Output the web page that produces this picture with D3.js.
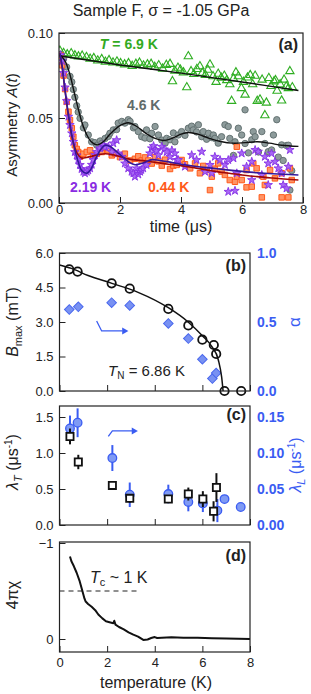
<!DOCTYPE html>
<html><head><meta charset="utf-8">
<script src="https://cdn.jsdelivr.net/npm/d3@7"></script>
<style>body{margin:0;background:#fff}svg{display:block}text{font-family:"Liberation Sans",Arial,sans-serif}</style>
</head><body><svg id="c" width="311" height="694"></svg>
<script>
// ---------- DATA ----------
// Panel (a): muon asymmetry A(t) vs time (μs)
const timeTicks = [0, 2, 4, 6, 8];
const asymTicks = [0, 0.05, 0.10];
const green69 = [[0.03,0.0895],[0.15,0.0882],[0.27,0.0874],[0.4,0.0880],[0.52,0.0868],[0.64,0.0862],[0.76,0.0866],[0.9,0.0858],[1.02,0.0848],[1.14,0.0852],[1.27,0.0838],[1.4,0.0846],[1.52,0.083],[1.64,0.0840],[1.77,0.0826],[1.9,0.0832],[2.02,0.0822],[2.15,0.0815],[2.28,0.0822],[2.4,0.0806],[2.52,0.0818],[2.64,0.0825],[2.77,0.0808],[2.9,0.0815],[3.02,0.0818],[3.14,0.0800],[3.27,0.081],[3.4,0.0790],[3.52,0.0812],[3.64,0.0818],[3.72,0.0716],[3.8,0.0778],[3.9,0.0795],[3.98,0.0784],[4.08,0.0768],[4.19,0.068],[4.24,0.0863],[4.33,0.0775],[4.42,0.0758],[4.52,0.0788],[4.62,0.0804],[4.7,0.0765],[4.8,0.0752],[4.88,0.0783],[4.95,0.0814],[5.05,0.0745],[5.15,0.0712],[5.22,0.076],[5.32,0.0737],[5.42,0.0748],[5.5,0.0722],[5.6,0.0698],[5.66,0.060],[5.72,0.0732],[5.8,0.0768],[5.88,0.0745],[5.98,0.0675],[6.05,0.0712],[6.1,0.0637],[6.18,0.0738],[6.27,0.0752],[6.35,0.0698],[6.43,0.0748],[6.5,0.060],[6.59,0.0608],[6.66,0.0725],[6.75,0.0516],[6.8,0.059],[6.88,0.0735],[6.95,0.0688],[7.05,0.0715],[7.1,0.0722],[7.15,0.066],[7.25,0.0698],[7.3,0.0602],[7.38,0.0725],[7.45,0.0685],[7.52,0.0675],[7.57,0.0775],[7.65,0.068]];
const gray46 = [[0.05,0.0875],[0.15,0.0848],[0.25,0.080],[0.36,0.0745],[0.42,0.0712],[0.47,0.0668],[0.52,0.0622],[0.58,0.0572],[0.63,0.0535],[0.69,0.0498],[0.8,0.0442],[0.85,0.0459],[0.96,0.040],[1.07,0.036],[1.18,0.0355],[1.24,0.034],[1.35,0.0365],[1.4,0.035],[1.51,0.038],[1.62,0.0392],[1.67,0.041],[1.78,0.043],[1.89,0.0432],[1.94,0.047],[2.06,0.048],[2.16,0.047],[2.27,0.049],[2.33,0.048],[2.44,0.0442],[2.49,0.045],[2.6,0.042],[2.71,0.039],[2.82,0.0382],[2.87,0.043],[2.98,0.0378],[3.04,0.041],[3.15,0.045],[3.26,0.040],[3.37,0.037],[3.48,0.0352],[3.53,0.038],[3.64,0.0372],[3.75,0.0412],[3.8,0.036],[3.91,0.040],[4.02,0.042],[4.13,0.0398],[4.24,0.044],[4.35,0.0452],[4.4,0.043],[4.51,0.0418],[4.57,0.046],[4.68,0.039],[4.73,0.042],[4.84,0.0375],[4.9,0.041],[5.01,0.0385],[5.06,0.040],[5.11,0.038],[5.22,0.0352],[5.33,0.039],[5.44,0.046],[5.55,0.045],[5.6,0.038],[5.72,0.028],[5.77,0.036],[5.88,0.044],[5.99,0.040],[6.1,0.035],[6.1,0.0548],[6.21,0.0295],[6.32,0.0372],[6.37,0.042],[6.43,0.039],[6.54,0.030],[6.65,0.042],[6.75,0.035],[6.86,0.0302],[6.97,0.0312],[7.03,0.040],[7.14,0.049],[7.19,0.027],[7.3,0.0342],[7.35,0.025],[7.46,0.0338],[7.52,0.034],[7.57,0.0076],[7.63,0.019]];
const orange044 = [[0.05,0.0868],[0.1,0.081],[0.15,0.075],[0.2,0.067],[0.25,0.0595],[0.31,0.0537],[0.36,0.0488],[0.42,0.044],[0.47,0.039],[0.52,0.034],[0.58,0.0318],[0.63,0.030],[0.69,0.0272],[0.8,0.029],[0.91,0.030],[1.02,0.031],[1.12,0.028],[1.24,0.029],[1.4,0.030],[1.51,0.0325],[1.62,0.031],[1.73,0.028],[1.84,0.029],[2.0,0.027],[2.16,0.029],[2.33,0.025],[2.49,0.026],[2.6,0.0275],[2.71,0.025],[2.82,0.0268],[2.93,0.025],[3.04,0.0232],[3.15,0.027],[3.26,0.0245],[3.37,0.022],[3.48,0.0255],[3.64,0.020],[3.75,0.022],[3.86,0.0224],[4.02,0.0253],[4.13,0.0228],[4.3,0.0204],[4.46,0.0233],[4.62,0.0175],[4.73,0.0218],[4.84,0.0194],[4.95,0.0076],[5.01,0.0155],[5.11,0.0202],[5.22,0.0233],[5.33,0.0185],[5.44,0.0165],[5.6,0.0135],[5.77,0.0125],[5.83,0.0331],[5.83,0.0155],[5.99,0.0135],[6.15,0.0194],[6.15,0.0092],[6.32,0.0096],[6.37,0.0233],[6.48,0.0204],[6.65,0.0033],[6.7,0.0155],[6.75,0.0106],[6.92,0.0194],[7.08,0.0145],[7.3,0.0175],[7.3,0.0033],[7.52,0.0033],[7.57,0.0204],[7.63,0.0135]];
const purple219 = [[0.05,0.087],[0.1,0.0835],[0.15,0.0765],[0.2,0.068],[0.25,0.060],[0.31,0.0508],[0.36,0.0459],[0.42,0.041],[0.47,0.036],[0.52,0.030],[0.58,0.028],[0.63,0.0253],[0.69,0.0224],[0.74,0.020],[0.8,0.0184],[0.85,0.0175],[0.91,0.0184],[0.96,0.0192],[1.02,0.0204],[1.07,0.0225],[1.12,0.0253],[1.18,0.0282],[1.24,0.030],[1.34,0.0322],[1.45,0.0341],[1.51,0.0328],[1.62,0.0331],[1.73,0.030],[1.78,0.0351],[1.89,0.037],[1.94,0.0292],[2.06,0.0272],[2.16,0.0233],[2.27,0.0204],[2.38,0.0184],[2.44,0.0175],[2.49,0.0155],[2.55,0.0204],[2.6,0.0168],[2.66,0.0184],[2.7,0.0195],[2.76,0.0204],[2.87,0.0224],[2.98,0.0292],[3.04,0.0322],[3.1,0.0335],[3.15,0.0312],[3.2,0.0305],[3.26,0.0282],[3.37,0.0331],[3.45,0.0315],[3.53,0.030],[3.64,0.0272],[3.7,0.031],[3.8,0.0292],[3.86,0.0253],[3.91,0.0253],[4.13,0.0214],[4.35,0.0282],[4.51,0.0253],[4.68,0.0302],[4.79,0.0184],[4.95,0.0224],[5.01,0.0175],[5.11,0.0272],[5.28,0.0253],[5.44,0.0224],[5.55,0.0253],[5.55,0.0066],[5.72,0.0263],[5.77,0.0072],[5.83,0.0175],[5.99,0.0292],[6.15,0.0214],[6.32,0.0243],[6.32,0.0135],[6.43,0.0312],[6.53,0.0302],[6.65,0.0165],[6.75,0.0272],[6.86,0.0233],[6.86,0.0106],[6.97,0.0292],[7.08,0.0243],[7.19,0.0204],[7.3,0.0175],[7.35,0.0106],[7.46,0.0086],[7.52,0.0214],[7.57,0.0312]];
// fit curves
const fit69 = [[0,0.0866],[2,0.0812],[4,0.0764],[6,0.0712],[7.85,0.0662]];
const fit46 = [[0.03,0.0872],[0.2,0.0835],[0.35,0.076],[0.5,0.065],[0.63,0.0555],[0.75,0.0475],[0.9,0.0405],[1.05,0.0362],[1.25,0.0342],[1.45,0.036],[1.7,0.041],[2.0,0.0455],[2.27,0.0472],[2.55,0.045],[2.85,0.041],[3.15,0.038],[3.42,0.0368],[3.7,0.038],[4.0,0.0405],[4.25,0.0415],[4.55,0.0405],[4.9,0.0382],[5.3,0.0362],[5.7,0.0352],[6.1,0.0355],[6.5,0.036],[6.9,0.0352],[7.3,0.034],[7.85,0.0333]];
const fit219 = [[0.03,0.088],[0.1,0.081],[0.2,0.066],[0.31,0.052],[0.45,0.037],[0.6,0.026],[0.75,0.019],[0.91,0.0175],[1.05,0.020],[1.2,0.026],[1.35,0.031],[1.51,0.034],[1.7,0.033],[1.9,0.030],[2.1,0.027],[2.3,0.024],[2.49,0.0225],[2.75,0.0235],[3.05,0.0255],[3.3,0.025],[3.6,0.0242],[4.0,0.0228],[4.5,0.0215],[5,0.0205],[5.5,0.0195],[6,0.0186],[6.5,0.0178],[7,0.0172],[7.85,0.0165]];
const fit044 = [[0.03,0.088],[0.1,0.080],[0.2,0.066],[0.31,0.051],[0.45,0.037],[0.6,0.029],[0.74,0.0265],[0.9,0.0268],[1.07,0.0275],[1.3,0.0285],[1.51,0.029],[1.8,0.0282],[2.1,0.0268],[2.4,0.0255],[2.8,0.0248],[3.2,0.0238],[3.6,0.0228],[4.0,0.022],[4.5,0.0205],[5,0.019],[5.5,0.0176],[6,0.0165],[6.5,0.0155],[7,0.0147],[7.85,0.0135]];

// Panel (b): Bmax (mT) and alpha vs temperature (K)
const tempTicks = [0, 2, 4, 6, 8];
const bTicks = [0, 1.5, 3.0, 4.5, 6.0];
const alphaTicks = [0, 0.5, 1.0];
const tempB = [0.41,0.76,2.19,2.95,4.57,5.41,6.0,6.48,6.58,6.93,7.63];
const bmax  = [5.29,5.19,4.68,4.45,3.57,2.85,2.23,2.0,1.61,0,0];
const tempAlpha = [0.41,0.79,2.19,2.95,4.57,5.41,6.0,6.42,6.58];
const alpha = [0.59,0.61,0.64,0.62,0.49,0.38,0.23,0.09,0.13];
const bFit = [[0,5.48],[0.5,5.33],[1.2,5.02],[2.2,4.68],[3.3,4.29],[4.57,3.62],[5.4,3.0],[6.0,2.4],[6.4,1.93],[6.67,1.35],[6.81,0.6],[6.87,0]];

// Panel (c): lambda_T (left) and lambda_L (right) vs temperature
const lamTTicks = [0, 0.5, 1.0, 1.5];
const lamLTicks = [0, 0.05, 0.10, 0.15];
const tempLT = [0.44,0.79,2.22,2.95,4.57,5.41,6.02,6.47,6.59];
const lamT   = [1.23,0.875,0.55,0.37,0.36,0.43,0.36,0.19,0.52];
const lamTErr= [0.11,0.10,0.05,0.06,0.04,0.09,0.11,0.14,0.20];
const tempLL = [0.44,0.76,2.22,2.95,4.57,5.41,6.02,6.63,6.93,7.61];
const lamL   = [0.134,0.142,0.093,0.042,0.043,0.032,0.030,0.020,0.036,0.025];
const lamLErr= [0.018,0.020,0.018,0.017,0.013,0.013,0.012,0.016,0.004,0.003];

// Panel (d): 4πχ vs temperature
const chiTicks = [-1, 0];
const chiCurve = [[0.44,-0.86],[0.5,-0.81],[0.6,-0.76],[0.72,-0.69],[0.85,-0.6],[0.95,-0.51],[1.05,-0.42],[1.1,-0.39],[1.2,-0.365],[1.35,-0.335],[1.5,-0.3],[1.63,-0.255],[1.8,-0.215],[1.95,-0.185],[2.1,-0.175],[2.26,-0.165],[2.3,-0.19],[2.35,-0.15],[2.5,-0.125],[2.7,-0.1],[2.9,-0.07],[3.1,-0.045],[3.3,-0.025],[3.52,0.01],[3.7,0.005],[3.85,-0.01],[4.0,-0.02],[4.1,-0.01],[4.3,-0.012],[4.7,-0.017],[5.2,-0.012],[5.8,-0.012],[6.4,-0.008],[7,-0.005],[8,0]];
const tcLevel = -0.5;

// ---------- DRAW ----------
const svg = d3.select('#c');
const BLUE = '#3a5cf2';
const FS = 13;
const sym = (t,s)=>d3.symbol().type(t).size(s)();

const pa = {l:59,r:303,t:33,b:203};
const pb = {l:59.5,r:250,t:253,b:391};
const pc = {l:59.5,r:250,t:406,b:525};
const pd = {l:59.5,r:250,t:542,b:652};

const xa = d3.scaleLinear().domain([0,8]).range([pa.l,pa.r]);
const ya = d3.scaleLinear().domain([0,0.1]).range([pa.b,pa.t]);
const xT = d3.scaleLinear().domain([0,8]).range([pb.l,pb.r]);
const yb = d3.scaleLinear().domain([0,6]).range([pb.b,pb.t]);
const yb2 = d3.scaleLinear().domain([0,1]).range([pb.b,pb.t]);
const yc = d3.scaleLinear().domain([0,1.5]).range([pc.b,417]);
const yc2 = d3.scaleLinear().domain([0,0.15]).range([pc.b,417]);
const yd = d3.scaleLinear().domain([-1,0]).range([543,639]);

function styleAxis(g){
  g.select('.domain').remove();
  g.selectAll('.tick line').attr('stroke','#222').attr('stroke-width',1);
  g.selectAll('text').attr('font-size',FS).attr('fill','#222').attr('font-family','"Liberation Sans",Arial,sans-serif');
}
function frame(p){
  svg.append('rect').attr('x',p.l).attr('y',p.t).attr('width',p.r-p.l).attr('height',p.b-p.t)
    .attr('fill','none').attr('stroke','#222').attr('stroke-width',1.2);
}
function clip(id,p){
  svg.append('clipPath').attr('id',id).append('rect').attr('x',p.l).attr('y',p.t).attr('width',p.r-p.l).attr('height',p.b-p.t);
}

// Title
svg.append('text').attr('x',161).attr('y',16).attr('text-anchor','middle').attr('font-size',16).attr('fill','#222')
  .text('Sample F, σ = -1.05 GPa');

// ===== Panel (a) =====
clip('ca',pa);
svg.append('g').attr('transform',`translate(${pa.l},0)`)
  .call(d3.axisLeft(ya).tickValues(asymTicks).tickFormat(d3.format('.2f')).tickSizeInner(-6).tickSizeOuter(0).tickPadding(6))
  .call(styleAxis);
svg.append('g').attr('transform',`translate(0,${pa.b})`)
  .call(d3.axisBottom(xa).tickValues(timeTicks).tickFormat(d3.format('d')).tickSizeInner(-6).tickSizeOuter(0).tickPadding(2))
  .call(styleAxis);

const ga = svg.append('g').attr('clip-path','url(#ca)');
ga.selectAll('.tri').data(green69).join('path').attr('d',sym(d3.symbolTriangle,30))
  .attr('transform',d=>`translate(${xa(d[0])},${ya(d[1])})`).attr('fill','none').attr('stroke','#2fae22').attr('stroke-width',1.1);
ga.selectAll('.gc').data(gray46).join('circle').attr('cx',d=>xa(d[0])).attr('cy',d=>ya(d[1])).attr('r',3.2)
  .attr('fill','#8d9b9b').attr('stroke','#5e6c6c').attr('stroke-width',0.9);
ga.selectAll('.sq').data(orange044).join('path').attr('d',sym(d3.symbolSquare,30))
  .attr('transform',d=>`translate(${xa(d[0])},${ya(d[1])})`).attr('fill','#ff9466').attr('stroke','#ff5a1a').attr('stroke-width',1);
ga.selectAll('.st').data(purple219).join('path').attr('d',sym(d3.symbolStar,22))
  .attr('transform',d=>`translate(${xa(d[0])},${ya(d[1])})`).attr('fill','#a868f4').attr('stroke','#8630e6').attr('stroke-width',0.9);

const la = d3.line().x(d=>xa(d[0])).y(d=>ya(d[1])).curve(d3.curveCatmullRom);
ga.append('path').datum(fit69).attr('d',la).attr('fill','none').attr('stroke','#111').attr('stroke-width',1.4);
ga.append('path').datum(fit46).attr('d',la).attr('fill','none').attr('stroke','#111').attr('stroke-width',1.4);
ga.append('path').datum(fit044).attr('d',la).attr('fill','none').attr('stroke','#a00808').attr('stroke-width',1.6);
ga.append('path').datum(fit219).attr('d',la).attr('fill','none').attr('stroke','#33189a').attr('stroke-width',1.6);
frame(pa);

function lbl(x,y,txt,color,size,weight){
  return svg.append('text').attr('x',x).attr('y',y).attr('fill',color||'#222').attr('font-size',size||16).attr('font-weight',weight||'normal').text(txt);
}
const tl = svg.append('text').attr('x',xa(1.34)).attr('y',ya(0.0906)).attr('fill','#33aa22').attr('font-size',14).attr('font-weight','bold');
tl.append('tspan').attr('font-style','italic').text('T');
tl.append('tspan').text(' = 6.9 K');
lbl(xa(2.23),ya(0.0547),'4.6 K','#5f6b6b',14,'bold');
lbl(xa(0.36),ya(0.0065),'2.19 K','#8a2be2',14,'bold');
lbl(xa(2.92),ya(0.0065),'0.44 K','#ff5a1a',14,'bold');
lbl(298,50,'(a)','#222',16,'bold').attr('text-anchor','end');
lbl(181,232,'time (μs)').attr('text-anchor','middle');
const ay = svg.append('text').attr('transform','translate(17,125) rotate(-90)').attr('text-anchor','middle').attr('font-size',15).attr('fill','#222');
ay.append('tspan').text('Asymmetry ');
ay.append('tspan').attr('font-style','italic').text('A');
ay.append('tspan').text('(');
ay.append('tspan').attr('font-style','italic').text('t');
ay.append('tspan').text(')');

// ===== Panel (b) =====
svg.append('g').attr('transform',`translate(${pb.l},0)`)
  .call(d3.axisLeft(yb).tickValues(bTicks).tickFormat(d3.format('.1f')).tickSizeInner(-6).tickSizeOuter(0).tickPadding(6))
  .call(styleAxis);
svg.append('g').attr('transform',`translate(${pb.r},0)`)
  .call(d3.axisRight(yb2).tickValues(alphaTicks).tickFormat(d3.format('.1f')).tickSizeInner(0).tickSizeOuter(0).tickPadding(7))
  .call(styleAxis).call(g=>g.selectAll('text').attr('fill',BLUE).attr('font-weight','bold').attr('font-size',14));
svg.append('g').attr('transform',`translate(0,${pb.b})`)
  .call(d3.axisBottom(xT).tickValues(tempTicks).tickFormat('').tickSizeInner(-6).tickSizeOuter(0))
  .call(styleAxis);

const alphaPts = tempAlpha.map((t,i)=>[t,alpha[i]]);
svg.selectAll('.dia').data(alphaPts).join('path').attr('d',sym(d3.symbolSquare,46))
  .attr('transform',d=>`translate(${xT(d[0])},${yb2(d[1])}) rotate(45)`).attr('fill','#7891f2').attr('stroke','#4a68ee').attr('stroke-width',1);
const lb = d3.line().x(d=>xT(d[0])).y(d=>yb(d[1])).curve(d3.curveMonotoneX);
svg.append('path').datum(bFit).attr('d',lb).attr('fill','none').attr('stroke','#111').attr('stroke-width',1.5);
const bPts = tempB.map((t,i)=>[t,bmax[i]]);
svg.selectAll('.bc').data(bPts).join('circle').attr('cx',d=>xT(d[0])).attr('cy',d=>yb(d[1])).attr('r',4.2)
  .attr('fill','none').attr('stroke','#111').attr('stroke-width',1.8);
frame(pb);
// arrow (b)
const arrB = [[1.56,3.04],[1.77,2.61],[2.65,2.61]];
svg.append('path').datum(arrB).attr('d',d3.line().x(d=>xT(d[0])).y(d=>yb(d[1]))).attr('fill','none').attr('stroke',BLUE).attr('stroke-width',1.3);
svg.append('path').attr('d',sym(d3.symbolTriangle,22)).attr('transform',`translate(${xT(2.72)},${yb(2.61)}) rotate(90)`).attr('fill',BLUE);
lbl(246,271,'(b)','#222',16,'bold').attr('text-anchor','end');
const tn = svg.append('text').attr('x',xT(2.04)).attr('y',yb(0.66)).attr('font-size',15).attr('fill','#222');
tn.append('tspan').attr('font-style','italic').text('T');
tn.append('tspan').attr('font-size',10).attr('dy',3).text('N');
tn.append('tspan').attr('dy',-3).text(' = 6.86 K');
const by = svg.append('text').attr('transform','translate(18,322) rotate(-90)').attr('text-anchor','middle').attr('font-size',16).attr('fill','#222');
by.append('tspan').attr('font-style','italic').text('B');
by.append('tspan').attr('font-size',11).attr('dy',4).text('max');
by.append('tspan').attr('dy',-4).text(' (mT)');
svg.append('text').attr('transform','translate(300,322) rotate(-90)').attr('text-anchor','middle').attr('font-size',17).attr('fill',BLUE).text('α');

// ===== Panel (c) =====
svg.append('g').attr('transform',`translate(${pc.l},0)`)
  .call(d3.axisLeft(yc).tickValues(lamTTicks).tickFormat(d3.format('.1f')).tickSizeInner(-6).tickSizeOuter(0).tickPadding(6))
  .call(styleAxis);
svg.append('g').attr('transform',`translate(${pc.r},0)`)
  .call(d3.axisRight(yc2).tickValues(lamLTicks).tickFormat(d3.format('.2f')).tickSizeInner(0).tickSizeOuter(0).tickPadding(7))
  .call(styleAxis).call(g=>g.selectAll('text').attr('fill',BLUE).attr('font-weight','bold').attr('font-size',14));
svg.append('g').attr('transform',`translate(0,${pc.b})`)
  .call(d3.axisBottom(xT).tickValues(tempTicks).tickFormat('').tickSizeInner(-6).tickSizeOuter(0))
  .call(styleAxis);

const llPts = tempLL.map((t,i)=>({t,v:lamL[i],e:lamLErr[i]}));
svg.selectAll('.lle').data(llPts).join('line').attr('x1',d=>xT(d.t)).attr('x2',d=>xT(d.t))
  .attr('y1',d=>yc2(d.v-d.e)).attr('y2',d=>yc2(d.v+d.e)).attr('stroke',BLUE).attr('stroke-width',2);
svg.selectAll('.llc').data(llPts).join('circle').attr('cx',d=>xT(d.t)).attr('cy',d=>yc2(d.v)).attr('r',4.3)
  .attr('fill','#7f9af4').attr('stroke',BLUE).attr('stroke-width',1.3);
const ltPts = tempLT.map((t,i)=>({t,v:lamT[i],e:lamTErr[i]}));
svg.selectAll('.lte').data(ltPts).join('line').attr('x1',d=>xT(d.t)).attr('x2',d=>xT(d.t))
  .attr('y1',d=>yc(d.v-d.e)).attr('y2',d=>yc(d.v+d.e)).attr('stroke','#111').attr('stroke-width',2);
svg.selectAll('.lts').data(ltPts).join('path').attr('d',sym(d3.symbolSquare,52))
  .attr('transform',d=>`translate(${xT(d.t)},${yc(d.v)})`).attr('fill','#fff').attr('stroke','#111').attr('stroke-width',1.8);
frame(pc);
const arrC = [[2.05,1.23],[2.22,1.306],[3.05,1.306]];
svg.append('path').datum(arrC).attr('d',d3.line().x(d=>xT(d[0])).y(d=>yc(d[1]))).attr('fill','none').attr('stroke',BLUE).attr('stroke-width',1.3);
svg.append('path').attr('d',sym(d3.symbolTriangle,22)).attr('transform',`translate(${xT(3.12)},${yc(1.306)}) rotate(90)`).attr('fill',BLUE);
lbl(246,420,'(c)','#222',16,'bold').attr('text-anchor','end');
const cy = svg.append('text').attr('transform','translate(18,462) rotate(-90)').attr('text-anchor','middle').attr('font-size',16).attr('fill','#222');
cy.append('tspan').attr('font-style','italic').text('λ');
cy.append('tspan').attr('font-style','italic').attr('font-size',11).attr('dy',4).text('T');
cy.append('tspan').attr('dy',-4).text(' (μs');
cy.append('tspan').attr('font-size',10).attr('dy',-6).text('-1');
cy.append('tspan').attr('dy',6).text(')');
const cy2 = svg.append('text').attr('transform','translate(301,465) rotate(-90)').attr('text-anchor','middle').attr('font-size',16).attr('fill',BLUE);
cy2.append('tspan').attr('font-style','italic').text('λ');
cy2.append('tspan').attr('font-style','italic').attr('font-size',11).attr('dy',4).text('L');
cy2.append('tspan').attr('dy',-4).text(' (μs');
cy2.append('tspan').attr('font-size',10).attr('dy',-6).text('-1');
cy2.append('tspan').attr('dy',6).text(')');

// ===== Panel (d) =====
svg.append('g').attr('transform',`translate(${pd.l},0)`)
  .call(d3.axisLeft(yd).tickValues(chiTicks).tickFormat(d3.format('d')).tickSizeInner(-6).tickSizeOuter(0).tickPadding(6))
  .call(styleAxis);
svg.append('g').attr('transform',`translate(0,${pd.b})`)
  .call(d3.axisBottom(xT).tickValues(tempTicks).tickFormat(d3.format('d')).tickSizeInner(-6).tickSizeOuter(0).tickPadding(6))
  .call(styleAxis);
svg.append('line').attr('x1',xT(0)).attr('x2',xT(3.26)).attr('y1',yd(tcLevel)).attr('y2',yd(tcLevel))
  .attr('stroke','#222').attr('stroke-width',1.1).attr('stroke-dasharray','5,4');
svg.append('path').datum(chiCurve).attr('d',d3.line().x(d=>xT(d[0])).y(d=>yd(d[1])))
  .attr('fill','none').attr('stroke','#111').attr('stroke-width',2).attr('stroke-linejoin','round');
frame(pd);
lbl(246,561,'(d)','#222',16,'bold').attr('text-anchor','end');
const tc = svg.append('text').attr('x',xT(1.28)).attr('y',583).attr('font-size',16).attr('fill','#222');
tc.append('tspan').attr('font-style','italic').text('T');
tc.append('tspan').attr('font-size',11).attr('dy',3).text('c');
tc.append('tspan').attr('dy',-3).text(' ~ 1 K');
svg.append('text').attr('transform','translate(18,595) rotate(-90)').attr('text-anchor','middle').attr('font-size',16).attr('fill','#222').text('4πχ');
lbl(156,688,'temperature (K)').attr('text-anchor','middle');
</script></body></html>
